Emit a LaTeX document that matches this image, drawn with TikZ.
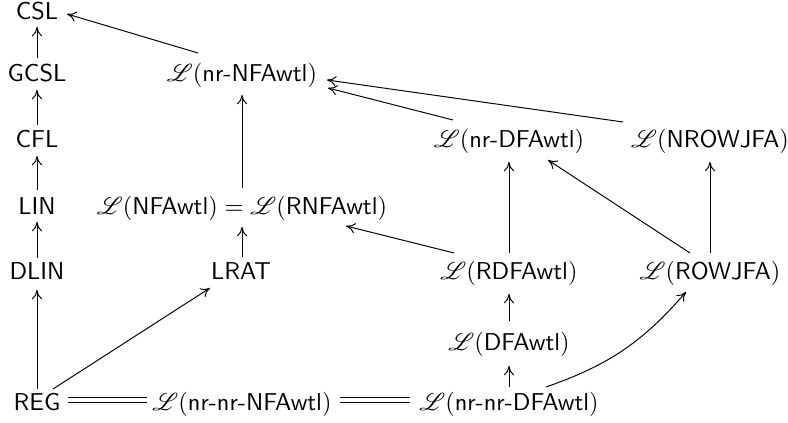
\documentclass[tikz,border=0pt]{standalone}
\usepackage{mathrsfs}
\usetikzlibrary{arrows.meta}
\begin{document}
\begin{tikzpicture}[x=0.41pt,y=-0.41pt,
  lbl/.style={anchor=base,inner sep=0pt,font=\sffamily},
  arr/.style={-{Computer Modern Rightarrow[length=3.8pt,width=4.2pt,line width=0.4pt]},line width=0.4pt},
  eqline/.style={double,double distance=1.8pt,line width=0.4pt}]
\useasboundingbox (0,0) rectangle (788,423);
% nodes
\node[lbl] (csl)  at (37,20)  {CSL};
\node[lbl] (gcsl) at (37,82)  {GCSL};
\node[lbl] (cfl)  at (37,148) {CFL};
\node[lbl] (lin)  at (37,215) {LIN};
\node[lbl] (dlin) at (37,280) {DLIN};
\node[lbl] (reg)  at (37,411) {REG};
\node[lbl] (nrnfa) at (242,82) {$\mathscr{L}(\mbox{nr-NFAwtl})$};
\node[lbl] (nfa)   at (242,215) {$\mathscr{L}(\mbox{NFAwtl})=\mathscr{L}(\mbox{RNFAwtl})$};
\node[lbl] (lrat)  at (241,280) {LRAT};
\node[lbl] (nrnrnfa) at (242,411) {$\mathscr{L}(\mbox{nr-nr-NFAwtl})$};
\node[lbl] (nrdfa) at (509,148) {$\mathscr{L}(\mbox{nr-DFAwtl})$};
\node[lbl] (rdfa)  at (509,280) {$\mathscr{L}(\mbox{RDFAwtl})$};
\node[lbl] (dfa)   at (509,351) {$\mathscr{L}(\mbox{DFAwtl})$};
\node[lbl] (nrnrdfa) at (509,411) {$\mathscr{L}(\mbox{nr-nr-DFAwtl})$};
\node[lbl] (nrow)  at (710,148) {$\mathscr{L}(\mbox{NROWJFA})$};
\node[lbl] (row)   at (710,280) {$\mathscr{L}(\mbox{ROWJFA})$};
% connectors
\draw[arr] ([shift={(0,-24)}]gcsl.base) -- ([shift={(0,7)}]csl.base);
\draw[arr] ([shift={(0,-23)}]cfl.base) -- ([shift={(0,8)}]gcsl.base);
\draw[arr] ([shift={(0,-25)}]lin.base) -- ([shift={(0,8)}]cfl.base);
\draw[arr] ([shift={(0,-22)}]dlin.base) -- ([shift={(0,7)}]lin.base);
\draw[arr] ([shift={(0,-22)}]reg.base) -- ([shift={(0,10)}]dlin.base);
\draw[arr] ([shift={(16,-22)}]reg.base) -- ([shift={(-31,8)}]lrat.base);
\draw[arr] ([shift={(-44,-29)}]nrnfa.base) -- ([shift={(30,-6)}]csl.base);
\draw[arr] ([shift={(0,-27)}]nfa.base) -- ([shift={(0,13)}]nrnfa.base);
\draw[arr] ([shift={(1,-23)}]lrat.base) -- ([shift={(0,12)}]nfa.base);
\draw[arr] ([shift={(-56,-28)}]nrdfa.base) -- ([shift={(86,6)}]nrnfa.base);
\draw[arr] ([shift={(-87,-26)}]nrow.base) -- ([shift={(85,-2)}]nrnfa.base);
\draw[arr] ([shift={(0,-27)}]rdfa.base) -- ([shift={(0,14)}]nrdfa.base);
\draw[arr] ([shift={(-55,-27)}]rdfa.base) -- ([shift={(104,11)}]nfa.base);
\draw[arr] ([shift={(0,-27)}]row.base) -- ([shift={(0,14)}]nrow.base);
\draw[arr] ([shift={(-20,-27)}]row.base) -- ([shift={(39,12)}]nrdfa.base);
\draw[arr] ([shift={(0,-30)}]dfa.base) -- ([shift={(0,14)}]rdfa.base);
\draw[arr] ([shift={(0,-24)}]nrnrdfa.base) -- ([shift={(0,15)}]dfa.base);
\draw[arr] ([shift={(37,-24)}]nrnrdfa.base) to[bend right=15] ([shift={(-24,12)}]row.base);
\draw[eqline] ([shift={(31,-11)}]reg.base) -- ([shift={(-95,-11)}]nrnrnfa.base);
\draw[eqline] ([shift={(98,-11)}]nrnrnfa.base) -- ([shift={(-99,-11)}]nrnrdfa.base);
\end{tikzpicture}
\end{document}
